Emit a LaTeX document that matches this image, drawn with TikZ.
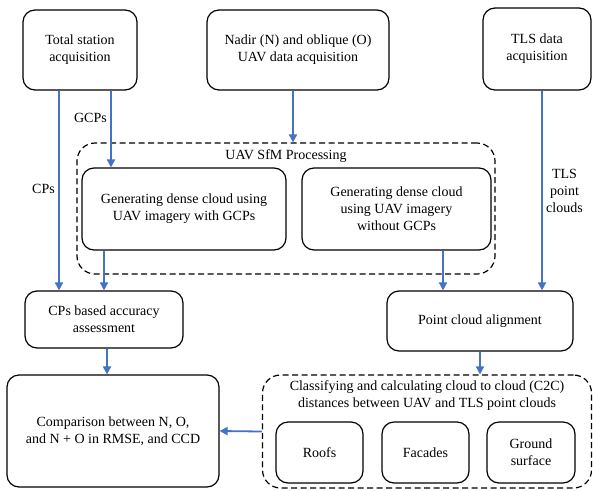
\documentclass[tikz,border=0pt]{standalone}
\usepackage{fontspec}
\setmainfont{Liberation Serif}
\usepackage{tikz}
\usetikzlibrary{arrows.meta, positioning}
\definecolor{flowblue}{RGB}{68,114,196}

\begin{document}
\begin{tikzpicture}[x=1pt, y=-1pt,
        stage/.style={rectangle, draw=black, line width=1.2pt, rounded corners=12pt, align=center, inner sep=2pt, font=\fontsize{14}{17}\selectfont},
        group/.style={rectangle, draw=black, line width=1.2pt, dash pattern=on 6pt off 3.5pt, rounded corners=18pt},
        lbl/.style={align=center, font=\fontsize{14}{17}\selectfont},
        arrow/.style={-{Triangle[length=8pt, width=8pt]}, flowblue, line width=1.8pt}
    ]
        \useasboundingbox (0,0) rectangle (593,490);
        % acquisition
        \node[stage, minimum width=114pt, minimum height=80pt] (ts) at (80, 50) {Total station\\acquisition};
        \node[stage, minimum width=182pt, minimum height=80pt] (nadir) at (298, 50) {Nadir (N) and oblique (O)\\UAV data acquisition};
        \node[stage, minimum width=108pt, minimum height=82pt] (tls) at (537, 49) {TLS data\\acquisition};
        % UAV processing
        \node[group, minimum width=418pt, minimum height=131pt] (sfm) at (286, 208.5) {};
        \node[lbl, below=4pt of sfm.north] (sfmtitle) {UAV SfM Processing};
        \node[stage, minimum width=204pt, minimum height=82pt] (gen1) at (184, 209) {Generating dense cloud using\\UAV imagery with GCPs};
        \node[stage, minimum width=189pt, minimum height=82pt] (gen2) at (396.5, 209) {Generating dense cloud\\using UAV imagery\\without GCPs};
        \node[stage, minimum width=158pt, minimum height=57pt] (cpacc) at (104, 319.5) {CPs based accuracy\\assessment};
        \node[stage, minimum width=186pt, minimum height=60pt] (align) at (480, 321) {Point cloud alignment};
        % comparison
        \node[stage, minimum width=212pt, minimum height=112pt] (comp) at (113, 431) {Comparison between N, O,\\and N + O in RMSE, and CCD};
        \node[group, minimum width=329pt, minimum height=113pt] (c2c) at (427, 431.5) {};
        \node[lbl, below=3pt of c2c.north] (c2ctitle) {Classifying and calculating cloud to cloud (C2C)\\distances between UAV and TLS point clouds};
        \node[stage, minimum width=87pt, minimum height=61pt] (roofs) at (319.5, 452.5) {Roofs};
        \node[stage, minimum width=87pt, minimum height=61pt] (facades) at (425.5, 452.5) {Facades};
        \node[stage, minimum width=88pt, minimum height=61pt] (ground) at (531, 452.5) {Ground\\surface};

        \draw[arrow] ([xshift=31pt]ts.south) -- ([xshift=31pt]ts.south |- gen1.north) node[pos=0.35, left, lbl, text=black] {GCPs};
        \draw[arrow] ([xshift=-21pt]ts.south) -- ([xshift=-21pt]ts.south |- cpacc.north) node[pos=0.49, left, lbl, text=black] {CPs};
        \draw[arrow] ([xshift=-5pt]nadir.south) -- ([xshift=-5pt]nadir.south |- sfm.north);
        \draw[arrow] (cpacc.north |- gen1.south) -- (cpacc.north);
        \draw[arrow] ([xshift=46.5pt]gen2.south) -- ([xshift=46.5pt]gen2.south |- align.north);
        \draw[arrow] ([xshift=5pt]tls.south) -- ([xshift=5pt]tls.south |- align.north) node[pos=0.5, right, lbl, text=black] {TLS\\point\\clouds};
        \draw[arrow] ([xshift=3pt]cpacc.south) -- ([xshift=3pt]cpacc.south |- comp.north);
        \draw[arrow] (align.south) -- (align.south |- c2c.north);
        \draw[arrow] (c2c.west) -- (comp.east);
    \end{tikzpicture}
\end{document}
